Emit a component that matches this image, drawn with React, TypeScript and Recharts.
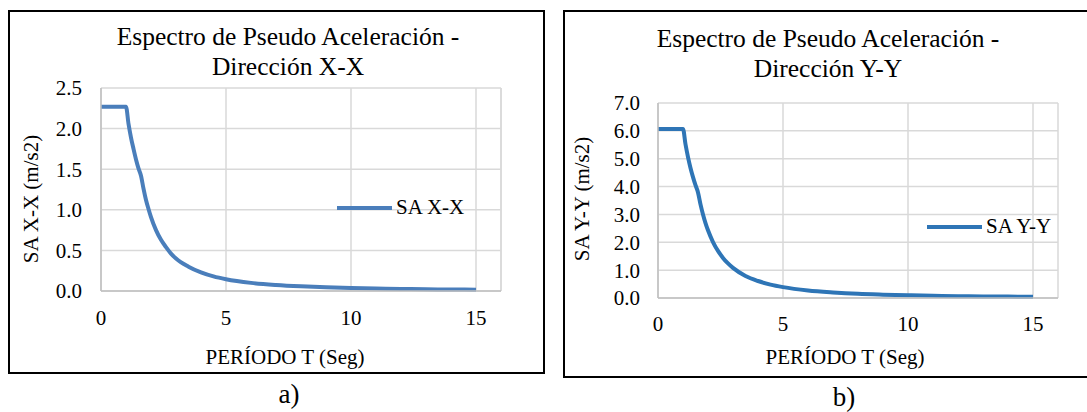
import React from 'react';
import { LineChart, Line, XAxis, YAxis, CartesianGrid, Legend, ReferenceLine, Label } from 'recharts';

const FONT = 'Liberation Serif, Times New Roman, serif';

// Periods T (s)
const periods = [0, 0.5, 1.0, 1.1, 1.2, 1.3, 1.4, 1.5, 1.6, 1.7, 1.8, 1.9, 2.0, 2.2, 2.4, 2.6, 2.8, 3.0, 3.5, 4.0, 4.5, 5, 6, 7, 8, 9, 10, 11, 12, 13, 14, 15];
// Pseudo-acceleration X-X (m/s2)
const saXX = [2.27, 2.27, 2.27, 2.06, 1.89, 1.75, 1.62, 1.51, 1.42, 1.26, 1.12, 1.01, 0.91, 0.75, 0.63, 0.54, 0.46, 0.40, 0.30, 0.23, 0.18, 0.145, 0.10, 0.074, 0.057, 0.045, 0.036, 0.030, 0.025, 0.021, 0.019, 0.016];
// Pseudo-acceleration Y-Y (m/s2)
const saYY = [6.07, 6.07, 6.07, 5.52, 5.06, 4.67, 4.34, 4.05, 3.79, 3.36, 3.00, 2.69, 2.43, 2.01, 1.69, 1.44, 1.24, 1.08, 0.79, 0.61, 0.48, 0.39, 0.27, 0.20, 0.15, 0.12, 0.097, 0.080, 0.067, 0.057, 0.050, 0.043];

const xTicks = [0, 5, 10, 15];
const yTicksXX = [0, 0.5, 1.0, 1.5, 2.0, 2.5];
const yTicksYY = [0, 1, 2, 3, 4, 5, 6, 7];

const dataXX = periods.map((t, i) => ({ t, sa: saXX[i] }));
const dataYY = periods.map((t, i) => ({ t, sa: saYY[i] }));

type SpectrumProps = {
  data: { t: number; sa: number }[];
  yTicks: number[];
  yMax: number;
  name: string;
  yLabel: string;
  color: string;
  width: number;
  height: number;
  margin: { top: number; right: number; bottom: number; left: number };
  xAxisHeight: number;
  yAxisWidth: number;
  yTickMargin: number;
  xTickMargin: number;
  rightGrid: boolean;
  legendPos: { left: number; top: number };
  xLabelDx: number;
  xLabelDy: number;
  yLabelDx: number;
  yLabelDy: number;
};

const LegendItem = ({ color, name }: { color: string; name: string }) => (
  <div style={{ display: 'flex', alignItems: 'center', fontFamily: FONT, fontSize: 21, color: '#000', whiteSpace: 'nowrap' }}>
    <svg width={55} height={6} style={{ display: 'block' }}>
      <line x1={0} y1={3} x2={55} y2={3} stroke={color} strokeWidth={4} />
    </svg>
    <span style={{ marginLeft: 4 }}>{name}</span>
  </div>
);

function Spectrum(p: SpectrumProps) {
  const tickStyle = { fill: '#000', fontSize: 21, fontFamily: FONT, style: { fontFamily: FONT } };
  const axisLine = { stroke: '#bfbfbf', strokeWidth: 1.5 };
  return (
    <LineChart width={p.width} height={p.height} data={p.data} margin={p.margin} style={{ fontFamily: FONT }}>
      <CartesianGrid stroke="#d9d9d9" strokeWidth={1.5} />
      <XAxis
        type="number"
        dataKey="t"
        domain={[0, 16]}
        ticks={xTicks}
        interval={0}
        height={p.xAxisHeight}
        tickLine={false}
        tickSize={0}
        tickMargin={p.xTickMargin}
        axisLine={axisLine}
        tick={tickStyle}
      >
        <Label
          content={(props: any) => {
            const vb = props.viewBox;
            return (
              <text x={vb.x + vb.width / 2 + p.xLabelDx} y={vb.y + p.xLabelDy} textAnchor="middle" style={{ fontFamily: FONT, fontSize: 21 }} fill="#000">
                PERÍODO T (Seg)
              </text>
            );
          }}
        />
      </XAxis>
      <YAxis
        type="number"
        domain={[0, p.yMax]}
        ticks={p.yTicks}
        interval={0}
        width={p.yAxisWidth}
        tickLine={false}
        tickSize={0}
        tickMargin={p.yTickMargin}
        axisLine={axisLine}
        tick={tickStyle}
        tickFormatter={(v: number) => v.toFixed(1)}
      >
        <Label
          content={(props: any) => {
            const vb = props.viewBox;
            const x = vb.x + p.yLabelDx;
            const y = vb.y + vb.height / 2 + p.yLabelDy;
            return (
              <text x={x} y={y} transform={`rotate(-90, ${x}, ${y})`} textAnchor="middle" style={{ fontFamily: FONT, fontSize: 21 }} fill="#000">
                {p.yLabel}
              </text>
            );
          }}
        />
      </YAxis>
      {p.rightGrid && <ReferenceLine x={16} stroke="#d9d9d9" strokeWidth={1.5} />}
      <Line type="monotone" dataKey="sa" name={p.name} stroke={p.color} strokeWidth={4} dot={false} isAnimationActive={false} />
      <Legend
        layout="vertical"
        align="center"
        verticalAlign="middle"
        wrapperStyle={{ left: p.legendPos.left, top: p.legendPos.top, width: 'auto', height: 'auto' }}
        content={() => <LegendItem color={p.color} name={p.name} />}
      />
    </LineChart>
  );
}

const titleStyle: React.CSSProperties = {
  position: 'absolute',
  width: 400,
  textAlign: 'center',
  fontFamily: FONT,
  fontSize: 25.5,
  lineHeight: '30px',
  color: '#000',
  whiteSpace: 'nowrap',
};

const capStyle: React.CSSProperties = {
  position: 'absolute',
  width: 100,
  textAlign: 'center',
  fontFamily: FONT,
  fontSize: 27,
  lineHeight: '30px',
  color: '#000',
};

export default function App() {
  return (
    <div style={{ position: 'absolute', left: 0, top: 0, width: 1087, height: 412, overflow: 'hidden', background: '#fff', fontFamily: FONT }}>
      {/* Chart a) */}
      <div style={{ position: 'absolute', left: 8, top: 10, width: 537, height: 364, border: '2px solid #000', boxSizing: 'border-box' }} />
      <div style={{ position: 'absolute', left: 9, top: 11 }}>
        <Spectrum
          data={dataXX}
          yTicks={yTicksXX}
          yMax={2.5}
          name="SA X-X"
          yLabel="SA X-X (m/s2)"
          color="#4a7ebb"
          width={535}
          height={362}
          margin={{ top: 77, right: 43, bottom: 2, left: 2 }}
          xAxisHeight={80}
          yAxisWidth={90}
          yTickMargin={19}
          xTickMargin={19}
          rightGrid={true}
          legendPos={{ left: 328, top: 184 }}
          xLabelDx={-16}
          xLabelDy={73}
          yLabelDx={27}
          yLabelDy={9.5}
        />
      </div>
      <div style={{ ...titleStyle, left: 88, top: 22.3 }}>
        Espectro de Pseudo Aceleración -<br />Dirección X-X
      </div>
      <div style={{ ...capStyle, left: 239, top: 379 }}>a)</div>

      {/* Chart b) */}
      <div style={{ position: 'absolute', left: 563, top: 10, width: 540, height: 368, border: '2px solid #000', boxSizing: 'border-box' }} />
      <div style={{ position: 'absolute', left: 564, top: 11 }}>
        <Spectrum
          data={dataYY}
          yTicks={yTicksYY}
          yMax={7}
          name="SA Y-Y"
          yLabel="SA Y-Y (m/s2)"
          color="#2e75b6"
          width={523}
          height={366}
          margin={{ top: 92, right: 29, bottom: 2, left: 4 }}
          xAxisHeight={77}
          yAxisWidth={90}
          yTickMargin={18}
          xTickMargin={18}
          rightGrid={false}
          legendPos={{ left: 363, top: 203 }}
          xLabelDx={-13}
          xLabelDy={66}
          yLabelDx={21}
          yLabelDy={-1.5}
        />
      </div>
      <div style={{ ...titleStyle, left: 628, top: 23.7 }}>
        Espectro de Pseudo Aceleración -<br />Dirección Y-Y
      </div>
      <div style={{ ...capStyle, left: 794, top: 382 }}>b)</div>
    </div>
  );
}
